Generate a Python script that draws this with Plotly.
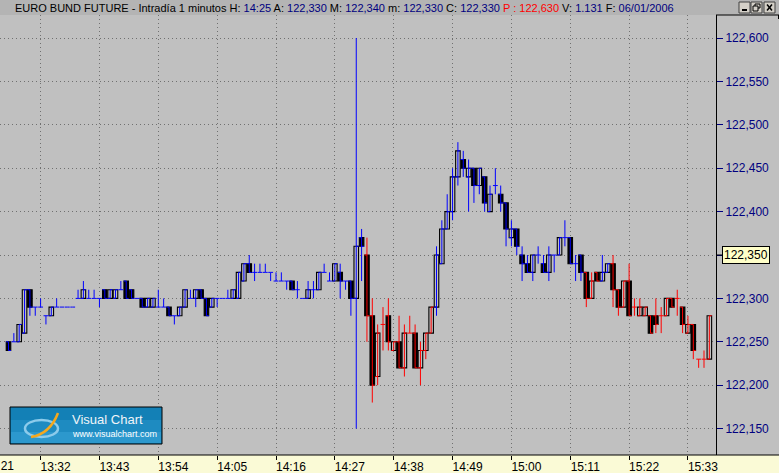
import plotly.graph_objects as go
import pandas as pd

# ---------------- data ----------------
TITLE = "EURO BUND FUTURE - Intradía 1 minutos"
HEADER_FIELDS = [("H:", "14:25"), ("A:", "122,330"), ("M:", "122,340"), ("m:", "122,330"),
                 ("C:", "122,330"), ("P :", "122,630"), ("V:", "1.131"), ("F:", "06/01/2006")]
DAY = "2006-01-06"
START = "13:26"

OPEN = [122.25, 122.25, 122.25, 122.26, 122.31, 122.29, 122.29, 122.28, 122.28, 122.29,
        122.29, 122.29, 122.29, 122.30, 122.30, 122.30, 122.30, 122.30, 122.31, 122.30,
        122.30, 122.31, 122.32, 122.31, 122.30, 122.30, 122.29, 122.29, 122.29, 122.29,
        122.29, 122.28, 122.28, 122.29, 122.30, 122.30, 122.31, 122.30, 122.29, 122.30,
        122.30, 122.30, 122.30, 122.30, 122.32, 122.34, 122.33, 122.33, 122.33, 122.33,
        122.32, 122.32, 122.32, 122.32, 122.31, 122.30, 122.30, 122.31, 122.31, 122.33,
        122.32, 122.32, 122.33, 122.32, 122.32, 122.30, 122.37, 122.35, 122.28, 122.21,
        122.27, 122.28, 122.24, 122.25, 122.22, 122.26, 122.26, 122.22, 122.24, 122.26,
        122.29, 122.34, 122.38, 122.40, 122.44, 122.46, 122.44, 122.45, 122.43, 122.44,
        122.40, 122.43, 122.42, 122.41, 122.37, 122.38, 122.35, 122.34, 122.33, 122.35,
        122.34, 122.33, 122.35, 122.35, 122.37, 122.37, 122.34, 122.35, 122.33, 122.30,
        122.33, 122.32, 122.33, 122.34, 122.31, 122.29, 122.32, 122.29, 122.28, 122.28,
        122.28, 122.28, 122.28, 122.28, 122.30, 122.30, 122.29, 122.26, 122.27, 122.23,
        122.23, 122.23]
HIGH = [122.25, 122.26, 122.27, 122.31, 122.31, 122.29, 122.30, 122.28, 122.29, 122.30,
        122.29, 122.29, 122.29, 122.31, 122.32, 122.31, 122.31, 122.30, 122.31, 122.31,
        122.31, 122.32, 122.32, 122.31, 122.30, 122.30, 122.30, 122.30, 122.31, 122.30,
        122.29, 122.28, 122.29, 122.31, 122.31, 122.31, 122.31, 122.30, 122.30, 122.30,
        122.30, 122.31, 122.31, 122.33, 122.34, 122.35, 122.34, 122.34, 122.34, 122.33,
        122.33, 122.33, 122.32, 122.32, 122.32, 122.30, 122.32, 122.32, 122.33, 122.34,
        122.33, 122.34, 122.34, 122.32, 122.32, 122.60, 122.38, 122.37, 122.30, 122.27,
        122.29, 122.30, 122.25, 122.28, 122.27, 122.28, 122.27, 122.25, 122.26, 122.29,
        122.36, 122.39, 122.42, 122.45, 122.48, 122.47, 122.46, 122.45, 122.45, 122.44,
        122.43, 122.45, 122.43, 122.41, 122.39, 122.38, 122.36, 122.35, 122.35, 122.36,
        122.35, 122.36, 122.35, 122.37, 122.39, 122.37, 122.35, 122.35, 122.33, 122.33,
        122.33, 122.35, 122.34, 122.35, 122.31, 122.32, 122.34, 122.30, 122.30, 122.29,
        122.28, 122.30, 122.29, 122.30, 122.30, 122.31, 122.29, 122.28, 122.27, 122.23,
        122.24, 122.28]
LOW = [122.24, 122.25, 122.25, 122.26, 122.28, 122.28, 122.29, 122.27, 122.28, 122.29,
       122.29, 122.29, 122.29, 122.30, 122.30, 122.30, 122.30, 122.29, 122.30, 122.30,
       122.30, 122.31, 122.30, 122.30, 122.30, 122.29, 122.29, 122.29, 122.29, 122.29,
       122.28, 122.27, 122.28, 122.29, 122.30, 122.29, 122.30, 122.28, 122.29, 122.29,
       122.30, 122.30, 122.30, 122.30, 122.32, 122.33, 122.32, 122.33, 122.33, 122.32,
       122.32, 122.32, 122.31, 122.31, 122.30, 122.30, 122.30, 122.30, 122.31, 122.33,
       122.32, 122.32, 122.30, 122.31, 122.28, 122.15, 122.32, 122.25, 122.18, 122.20,
       122.24, 122.24, 122.24, 122.22, 122.21, 122.26, 122.22, 122.20, 122.23, 122.26,
       122.28, 122.34, 122.38, 122.39, 122.43, 122.44, 122.40, 122.41, 122.42, 122.40,
       122.40, 122.42, 122.40, 122.36, 122.36, 122.35, 122.32, 122.33, 122.32, 122.34,
       122.33, 122.32, 122.33, 122.35, 122.36, 122.34, 122.32, 122.32, 122.29, 122.30,
       122.32, 122.32, 122.33, 122.29, 122.28, 122.29, 122.28, 122.28, 122.28, 122.28,
       122.26, 122.26, 122.26, 122.28, 122.29, 122.28, 122.26, 122.26, 122.23, 122.22,
       122.22, 122.23]
CLOSE = [122.24, 122.25, 122.27, 122.31, 122.29, 122.29, 122.29, 122.28, 122.29, 122.29,
         122.29, 122.29, 122.29, 122.30, 122.31, 122.30, 122.30, 122.30, 122.30, 122.31,
         122.31, 122.31, 122.30, 122.30, 122.30, 122.29, 122.30, 122.30, 122.29, 122.29,
         122.28, 122.28, 122.29, 122.31, 122.30, 122.31, 122.30, 122.28, 122.30, 122.30,
         122.30, 122.30, 122.31, 122.33, 122.34, 122.33, 122.33, 122.33, 122.33, 122.33,
         122.32, 122.32, 122.32, 122.31, 122.31, 122.30, 122.31, 122.31, 122.33, 122.33,
         122.32, 122.34, 122.32, 122.32, 122.30, 122.36, 122.36, 122.28, 122.20, 122.26,
         122.27, 122.25, 122.25, 122.22, 122.26, 122.26, 122.22, 122.24, 122.26, 122.29,
         122.35, 122.38, 122.40, 122.44, 122.47, 122.45, 122.45, 122.43, 122.45, 122.41,
         122.42, 122.43, 122.41, 122.38, 122.38, 122.36, 122.34, 122.33, 122.35, 122.35,
         122.33, 122.35, 122.35, 122.37, 122.37, 122.34, 122.34, 122.33, 122.30, 122.32,
         122.32, 122.33, 122.34, 122.31, 122.29, 122.32, 122.28, 122.29, 122.29, 122.29,
         122.26, 122.27, 122.28, 122.30, 122.29, 122.30, 122.27, 122.27, 122.24, 122.23,
         122.23, 122.28]

# minutes flagged by the platform (red wicks)
ALERT_SPANS = [("14:33", "14:45"), ("15:14", "15:16"), ("15:19", "15:37")]

X_TICKS = ["13:32", "13:43", "13:54", "14:05", "14:16", "14:27", "14:38",
           "14:49", "15:00", "15:11", "15:22", "15:33"]
X_CUT_TICK = "13:21"
Y_TICKS = [122.15, 122.20, 122.25, 122.30, 122.35, 122.40, 122.45, 122.50, 122.55, 122.60]
Y_TICK_TEXT = ["122,150", "122,200", "122,250", "122,300", "122,350",
               "122,400", "122,450", "122,500", "122,550", "122,600"]
LAST_PRICE = 122.35
LAST_PRICE_TEXT = "122,350"

# ---------------- build ----------------
n = len(OPEN)
times = pd.date_range(f"{DAY} {START}", periods=n, freq="min")

alert = [False] * n
for a, b in ALERT_SPANS:
    ta, tb = pd.Timestamp(f"{DAY} {a}"), pd.Timestamp(f"{DAY} {b}")
    for i, t in enumerate(times):
        if ta <= t <= tb:
            alert[i] = True

W, H = 779, 473
PL, PR, PT, PB = 0, 716, 15, 455   # plot area pixels


def px(x):
    return (x - PL) / (PR - PL)


def py(y):
    return (PB - y) / (PB - PT)


SPACING = 5.35       # px per minute
FIRST_PX = 8.5
x_min = times[0] - pd.Timedelta(minutes=FIRST_PX / SPACING)
x_max = times[0] + pd.Timedelta(minutes=(PR - FIRST_PX) / SPACING)
y_min = 122.60 - (PB - 38) / 868.0
y_max = 122.60 + (38 - PT) / 868.0

FONT = "Liberation Sans, Arial"

fig = go.Figure()

# wicks (and doji ticks) as OHLC, blue and red groups
for flag, col in [(False, "#0000FF"), (True, "#FF0000")]:
    idx = [i for i in range(n) if alert[i] == flag]
    fig.add_trace(go.Ohlc(
        x=[times[i] for i in idx],
        open=[OPEN[i] for i in idx], high=[HIGH[i] for i in idx],
        low=[LOW[i] for i in idx], close=[CLOSE[i] for i in idx],
        increasing=dict(line=dict(color=col, width=1)),
        decreasing=dict(line=dict(color=col, width=1)),
        tickwidth=0.45, hoverinfo="skip", showlegend=False))

# bodies
base = [min(o, c) for o, c in zip(OPEN, CLOSE)]
height = [abs(c - o) if abs(c - o) > 1e-9 else None for o, c in zip(OPEN, CLOSE)]
fill = ["rgba(0,0,0,0)" if c >= o else "#000000" for o, c in zip(OPEN, CLOSE)]
fig.add_trace(go.Bar(
    x=times, y=height, base=base, width=51000,
    marker=dict(color=fill, line=dict(color="#000000", width=1.1)),
    hoverinfo="skip", showlegend=False))

shapes = []
# header bar
shapes.append(dict(type="rect", xref="paper", yref="paper", x0=px(0), x1=px(W), y0=py(PT), y1=py(0),
                   fillcolor="#B4B4B4", line=dict(width=0), layer="below"))
# bottom time band
shapes.append(dict(type="rect", xref="paper", yref="paper", x0=px(0), x1=px(W), y0=py(H), y1=py(PB),
                   fillcolor="#FAFAD6", line=dict(width=0), layer="below"))
shapes.append(dict(type="line", xref="paper", yref="paper", x0=px(0), x1=px(W), y0=py(PB), y1=py(PB),
                   line=dict(color="#000000", width=1)))
# axis column border
shapes.append(dict(type="line", xref="paper", yref="paper", x0=px(PR), x1=px(W), y0=py(PT), y1=py(PT),
                   line=dict(color="#000000", width=1)))
shapes.append(dict(type="line", xref="paper", yref="paper", x0=px(W - 0.5), x1=px(W - 0.5), y0=py(PT), y1=py(PT + 4),
                   line=dict(color="#000000", width=1)))
# window buttons
for bx in [(739, 750), (751, 762), (764, 775)]:
    shapes.append(dict(type="rect", xref="paper", yref="paper", x0=px(bx[0]), x1=px(bx[1]),
                       y0=py(13), y1=py(2), fillcolor="#D4D0C8", line=dict(color="#404040", width=1)))
shapes.append(dict(type="line", xref="paper", yref="paper", x0=px(742), x1=px(747), y0=py(10), y1=py(10),
                   line=dict(color="#000000", width=2)))
shapes.append(dict(type="rect", xref="paper", yref="paper", x0=px(755), x1=px(760), y0=py(8), y1=py(4),
                   line=dict(color="#000000", width=1)))
shapes.append(dict(type="rect", xref="paper", yref="paper", x0=px(753), x1=px(758), y0=py(11), y1=py(6),
                   fillcolor="#D4D0C8", line=dict(color="#000000", width=1)))
shapes.append(dict(type="line", xref="paper", yref="paper", x0=px(767), x1=px(772), y0=py(4.5), y1=py(10.5),
                   line=dict(color="#000000", width=1.5)))
shapes.append(dict(type="line", xref="paper", yref="paper", x0=px(767), x1=px(772), y0=py(10.5), y1=py(4.5),
                   line=dict(color="#000000", width=1.5)))
# last price arrow tick
shapes.append(dict(type="line", xref="paper", yref="y", x0=px(716), x1=px(722), y0=LAST_PRICE, y1=LAST_PRICE,
                   line=dict(color="#000000", width=1)))
# logo (two-tone gradient approximation)
shapes.append(dict(type="rect", xref="paper", yref="paper", x0=px(10), x1=px(162), y0=py(444), y1=py(407),
                   fillcolor="#1380B6", line=dict(color="#000000", width=1)))
shapes.append(dict(type="rect", xref="paper", yref="paper", x0=px(11), x1=px(161), y0=py(443), y1=py(420),
                   fillcolor="#1E8BC1", line=dict(width=0)))
shapes.append(dict(type="rect", xref="paper", yref="paper", x0=px(11), x1=px(161), y0=py(443), y1=py(432),
                   fillcolor="#2C98CD", line=dict(width=0)))
shapes.append(dict(type="circle", xref="paper", yref="paper", x0=px(25), x1=px(58), y0=py(437), y1=py(420),
                   line=dict(color="#8CCBEB", width=2.5)))
shapes.append(dict(type="path", xref="paper", yref="paper",
                   path=f"M {px(31)},{py(437)} Q {px(50)},{py(434)} {px(58)},{py(413)}",
                   line=dict(color="#F4A81E", width=2.5)))

annotations = []
# header text
parts = [TITLE]
for lab, val in HEADER_FIELDS:
    if lab.startswith("P"):
        parts.append(f"<span style='color:#FF0000'>{lab} {val}</span>")
    else:
        parts.append(f"{lab} <span style='color:#000080'>{val}</span>")
annotations.append(dict(xref="paper", yref="paper", x=px(13), y=py(8), xanchor="left", yanchor="middle",
                        text=" ".join(parts), showarrow=False,
                        font=dict(family=FONT, size=11, color="#000000")))
# cut-off first time label
t_cut = pd.Timestamp(f"{DAY} {X_CUT_TICK}")
xc = (t_cut - x_min) / (x_max - x_min)
annotations.append(dict(xref="paper", yref="paper", x=xc, y=py(466), xanchor="left", yanchor="middle",
                        text=X_CUT_TICK, showarrow=False,
                        font=dict(family=FONT, size=12, color="#000000")))
# last price box
annotations.append(dict(xref="paper", yref="y", x=px(722), y=LAST_PRICE, xanchor="left", yanchor="middle",
                        text=LAST_PRICE_TEXT, showarrow=False, bgcolor="#FFFFC8",
                        bordercolor="#000000", borderwidth=1, borderpad=1,
                        font=dict(family=FONT, size=12, color="#000000")))
# logo texts
annotations.append(dict(xref="paper", yref="paper", x=px(70), y=py(419), xanchor="left", yanchor="middle",
                        text="Visual Chart", showarrow=False,
                        font=dict(family=FONT, size=13, color="#F0F4F8")))
annotations.append(dict(xref="paper", yref="paper", x=px(70), y=py(434), xanchor="left", yanchor="middle",
                        text="www.visualchart.com", showarrow=False,
                        font=dict(family=FONT, size=9, color="#FFFFFF")))

fig.update_layout(
    width=W, height=H,
    margin=dict(l=PL, r=W - PR, t=PT, b=H - PB, pad=0),
    paper_bgcolor="#C0C0C0", plot_bgcolor="#C0C0C0",
    showlegend=False, hovermode=False, barmode="overlay",
    shapes=shapes, annotations=annotations,
    xaxis=dict(type="date", range=[x_min, x_max], rangeslider=dict(visible=False),
               tickvals=[pd.Timestamp(f"{DAY} {t}") for t in X_TICKS], ticktext=X_TICKS,
               ticks="outside", ticklen=4, tickcolor="#000000", ticklabelshift=15, ticklabelstandoff=-3,
               showgrid=True, gridcolor="#707070", griddash="1px,3px", gridwidth=1,
               showline=False, zeroline=False, automargin=False,
               tickfont=dict(family=FONT, size=12, color="#000000")),
    yaxis=dict(side="right", range=[y_min, y_max], tickvals=Y_TICKS, ticktext=Y_TICK_TEXT,
               ticks="outside", ticklen=6, tickcolor="#000080",
               showgrid=True, gridcolor="#707070", griddash="1px,3px", gridwidth=1,
               showline=True, linecolor="#000000", linewidth=1, zeroline=False, automargin=False,
               tickfont=dict(family=FONT, size=12, color="#000080")),
)

fig.write_html("out.html", config={"displayModeBar": False},
               post_script="document.body.style.margin='0';document.body.style.overflow='hidden';")
